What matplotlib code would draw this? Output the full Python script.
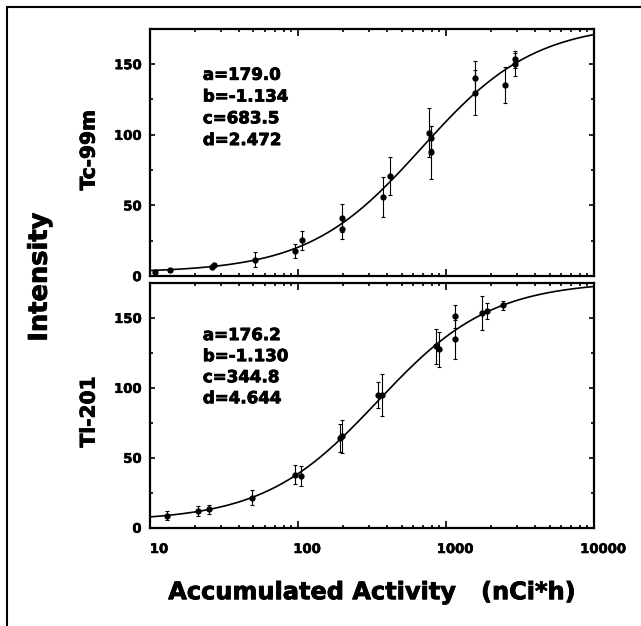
import numpy as np
import matplotlib
matplotlib.use("Agg")
import matplotlib.pyplot as plt
import matplotlib.transforms as mtransforms
import matplotlib.patheffects as pe
from matplotlib.patches import Rectangle
from matplotlib.ticker import FixedLocator, LogLocator, NullFormatter, FuncFormatter

plt.rcParams['font.family'] = ['DejaVu Sans']
plt.rcParams['font.weight'] = 'bold'

# Tc-99m measurements (x in nCi*h, intensity, error)
tc_x = [10.8, 13.6, 26.1, 27.2, 51.2, 95.5, 107, 197, 197, 377, 418,
        771, 788, 788, 1570, 1570, 2515, 2900, 2900]
tc_y = [3.0, 4.2, 6.5, 7.7, 11.7, 17.8, 25.3, 41.3, 33.6, 55.8, 71.1,
        101.6, 98.0, 87.5, 140.4, 129.8, 135.2, 153.3, 149.8]
tc_err = [1.5, 1.5, 1.5, 1.5, 5.3, 4.7, 6.5, 10, 7.5, 14.3, 13.5,
          17, 8, 19, 11.7, 16, 13, 6, 8]
tc_fit = [179.0, -1.134, 683.5, 2.472]

# Tl-201 measurements
tl_x = [12.96, 21.2, 25.0, 48.6, 95.2, 104, 192, 198.6, 349, 368,
        855, 900, 1150, 1150, 1758, 1892, 2415]
tl_y = [8.4, 12.0, 13.2, 21.5, 38.0, 36.9, 64.1, 65.3, 95.0, 95.0,
        129.8, 127.7, 151.1, 134.6, 153.5, 155.0, 159.0]
tl_err = [3.2, 3.5, 3.3, 5.5, 6.5, 7.3, 10, 11.6, 9.5, 15,
          12.5, 12.5, 8, 14, 12, 6, 3.3]
tl_fit = [176.2, -1.130, 344.8, 4.644]

param_labels = ['a', 'b', 'c', 'd']
param_fmt = ['{:.1f}', '{:.3f}', '{:.1f}', '{:.3f}']
x_ticks = [10, 100, 1000, 10000]
y_ticks = [0, 50, 100, 150]

# a bit of stroke to get the heavy scanned lettering
heavy = [pe.withStroke(linewidth=0.6, foreground='black')]


def logistic(x, a, b, c, d):
    return d + (a - d) / (1 + (x / c) ** b)


def draw_panel(ax, xs, ys, errs, fit, text_top, text_step):
    xx = np.logspace(1, 4, 400)
    ax.plot(xx, logistic(xx, *fit), color='black', lw=1.2)
    ax.errorbar(xs, ys, yerr=errs, fmt='o', color='black', ms=3.5,
                elinewidth=0.8, capsize=1.5, capthick=0.8)

    ax.set_xscale('log')
    ax.set_xlim(10, 10000)
    ax.set_ylim(0, 175)
    ax.xaxis.set_major_locator(FixedLocator(x_ticks))
    ax.xaxis.set_major_formatter(FuncFormatter(lambda v, p: '%d' % v))
    ax.xaxis.set_minor_locator(LogLocator(base=10, subs=np.arange(2, 10)))
    ax.xaxis.set_minor_formatter(NullFormatter())
    ax.yaxis.set_major_locator(FixedLocator(y_ticks))
    ax.yaxis.set_minor_locator(FixedLocator([25, 75, 125, 175]))

    ax.tick_params(which='both', direction='in', top=True, right=True, width=1.2)
    ax.tick_params(which='major', axis='x', length=5, pad=11, labelsize=9.5)
    ax.tick_params(which='major', axis='y', length=3.5, pad=6, labelsize=9.5)
    ax.tick_params(which='minor', length=2.5)
    for s in ax.spines.values():
        s.set_linewidth(1.6)

    for i, (name, fmt, val) in enumerate(zip(param_labels, param_fmt, fit)):
        ax.text(0.119, text_top - i * text_step, name + '=' + fmt.format(val),
                transform=ax.transAxes, fontsize=12, fontweight='bold',
                ha='left', va='center', path_effects=heavy)


fig = plt.figure(figsize=(6.41, 6.26), dpi=100)
ax1 = fig.add_axes([0.234, 0.559, 0.693, 0.395])
ax2 = fig.add_axes([0.234, 0.157, 0.693, 0.391], sharex=ax1)

draw_panel(ax1, tc_x, tc_y, tc_err, tc_fit, 0.814, 0.088)
draw_panel(ax2, tl_x, tl_y, tl_err, tl_fit, 0.787, 0.086)
ax1.tick_params(labelbottom=False)

# x tick labels sit a little right of their ticks in the original
fig.canvas.draw()
shift = mtransforms.ScaledTranslation(6.5 / 72, 0, fig.dpi_scale_trans)
for lab in ax2.get_xticklabels():
    lab.set_transform(lab.get_transform() + shift)
for lab in ax1.get_yticklabels() + ax2.get_yticklabels() + ax2.get_xticklabels():
    lab.set_path_effects([pe.withStroke(linewidth=0.4, foreground='black')])

# labels
fig.text(0.062, 0.5575, 'Intensity', rotation=90, fontsize=18.5,
         fontweight='bold', ha='center', va='center', path_effects=heavy)
fig.text(0.139, 0.760, 'Tc-99m', rotation=90, fontsize=14.5,
         fontweight='bold', ha='center', va='center', path_effects=heavy)
fig.text(0.139, 0.342, 'Tl-201', rotation=90, fontsize=14.5,
         fontweight='bold', ha='center', va='center', path_effects=heavy)
fig.text(0.580, 0.054, 'Accumulated Activity   (nCi*h)', fontsize=17.3,
         fontweight='bold', ha='center', va='center', path_effects=heavy)

# scanned page border (left and top edges visible)
fig.add_artist(Rectangle((7 / 641, -0.1), 2, 1.1 - 7 / 626, transform=fig.transFigure,
                         fill=False, lw=1.5, edgecolor='black', clip_on=False))

fig.savefig('out.png', dpi=100)
